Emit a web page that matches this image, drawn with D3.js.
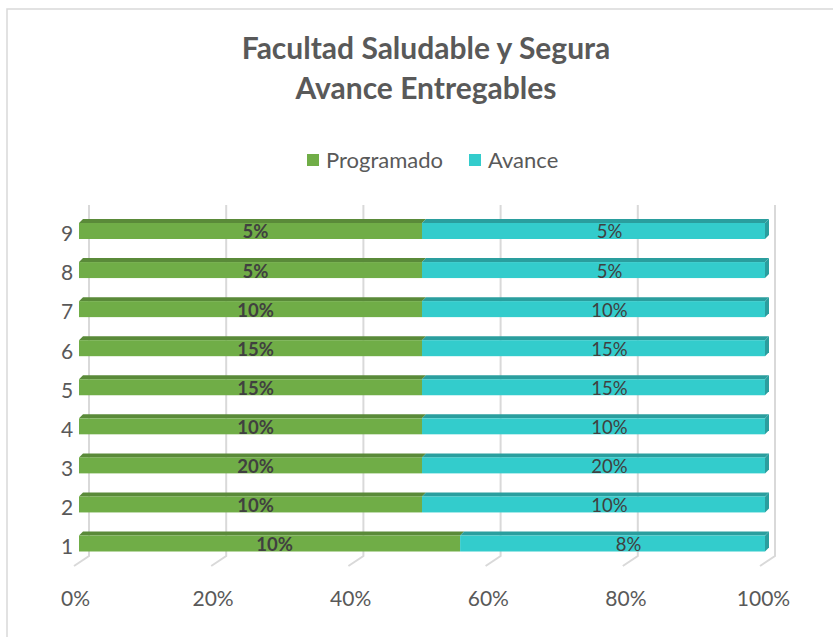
<!DOCTYPE html>
<html>
<head>
<meta charset="utf-8">
<script src="https://cdn.jsdelivr.net/npm/d3@7"></script>
<style>
  body { margin: 0; background: #fff; }
  svg { display: block; }
</style>
</head>
<body>
<div id="chart"></div>
<script>
// Chart data
const categories = ["1", "2", "3", "4", "5", "6", "7", "8", "9"];
const programado = [10, 10, 20, 10, 15, 15, 10, 5, 5];
const avance = [8, 10, 20, 10, 15, 15, 10, 5, 5];
const seriesNames = ["Programado", "Avance"];
const tickValues = [0, 0.2, 0.4, 0.6, 0.8, 1];

const width = 833, height = 637;
const colors = {
    Programado: { front: "#70AD47", top: "#5A8A39", side: "#5A8A39" },
    Avance: { front: "#33CCCC", top: "#2A9E9E", side: "#2A9E9E" }
};
const textColor = "#595959";
const labelColor = "#404040";
const font = "Lato, 'Open Sans', sans-serif";

const svg = d3.select("#chart").append("svg")
    .attr("width", width)
    .attr("height", height);

// Outer chart border (only top/left visible in the frame)
svg.append("rect")
    .attr("x", 7).attr("y", 9)
    .attr("width", 840).attr("height", 650)
    .attr("fill", "none")
    .attr("stroke", "#d9d9d9")
    .attr("stroke-width", 1.5);

// Scales
const x = d3.scaleLinear().domain([0, 1]).range([79, 765]);          // bar front faces
const xBack = d3.scaleLinear().domain([0, 1]).range([89, 775]);      // back wall gridlines
const xFloor = d3.scaleLinear().domain([0, 1]).range([74, 760]);     // floor front edge
const xLabel = d3.scaleLinear().domain([0, 1]).range([75, 763]);     // tick labels
const y = d3.scalePoint().domain(categories.slice().reverse()).range([231, 543.5]);

const barH = 16;           // front face height
const depth = { dx: 4, dy: -4 };

// Gridlines on the back wall with floor diagonals
const grid = svg.append("g").attr("stroke", "#d9d9d9").attr("stroke-width", 2).attr("fill", "none");
grid.selectAll("path")
    .data(tickValues)
    .join("path")
    .attr("d", t => `M${xBack(t)},205 L${xBack(t)},556 L${xFloor(t)},566`);

// Stack data into 100% shares
const rows = categories.map((c, i) => {
    const total = programado[i] + avance[i];
    return { cat: c, Programado: programado[i], Avance: avance[i],
             pShare: programado[i] / total };
});

const segs = [];
rows.forEach(r => {
    segs.push({ cat: r.cat, series: "Programado", x0: 0, x1: r.pShare, value: r.Programado });
    segs.push({ cat: r.cat, series: "Avance", x0: r.pShare, x1: 1, value: r.Avance });
});

const barG = svg.append("g");
const seg = barG.selectAll("g.seg").data(segs).join("g").attr("class", "seg");

// top face
seg.append("path")
    .attr("fill", d => colors[d.series].top)
    .attr("d", d => {
        const yt = y(d.cat) - barH / 2;
        return `M${x(d.x0)},${yt} L${x(d.x0) + depth.dx},${yt + depth.dy} L${x(d.x1) + depth.dx},${yt + depth.dy} L${x(d.x1)},${yt} Z`;
    });

// front face
seg.append("rect")
    .attr("x", d => x(d.x0))
    .attr("y", d => y(d.cat) - barH / 2)
    .attr("width", d => x(d.x1) - x(d.x0))
    .attr("height", barH)
    .attr("fill", d => colors[d.series].front);

// right side face (only at the end of the bar)
seg.filter(d => d.x1 === 1).append("path")
    .attr("fill", d => colors[d.series].side)
    .attr("d", d => {
        const yt = y(d.cat) - barH / 2;
        const xr = x(d.x1);
        return `M${xr},${yt} L${xr + depth.dx},${yt + depth.dy} L${xr + depth.dx},${yt + barH + depth.dy} L${xr},${yt + barH} Z`;
    });

// Data labels
svg.append("g").selectAll("text")
    .data(segs)
    .join("text")
    .attr("x", d => (x(d.x0) + x(d.x1)) / 2 + (d.series === "Avance" ? 16 : 5))
    .attr("y", d => y(d.cat) + 1)
    .attr("dy", "0.35em")
    .attr("text-anchor", "middle")
    .attr("font-family", font)
    .attr("font-size", 18.5)
    .attr("font-weight", d => d.series === "Programado" ? "bold" : "normal")
    .attr("fill", labelColor)
    .text(d => d.value + "%");

// Category labels
svg.append("g").selectAll("text")
    .data(categories)
    .join("text")
    .attr("x", 67)
    .attr("y", d => y(d) + 3)
    .attr("dy", "0.35em")
    .attr("text-anchor", "middle")
    .attr("font-family", font)
    .attr("font-size", 21)
    .attr("fill", textColor)
    .text(d => d);

// X axis tick labels
const xAxis = svg.append("g")
    .attr("transform", "translate(0,588)")
    .call(d3.axisBottom(xLabel).tickValues(tickValues).tickFormat(d3.format(".0%")).tickSize(0));
xAxis.select(".domain").remove();
xAxis.selectAll("text")
    .attr("font-family", font)
    .attr("font-size", 21)
    .attr("fill", textColor);

// Title
const title = svg.append("text")
    .attr("text-anchor", "middle")
    .attr("font-family", font)
    .attr("font-size", 30)
    .attr("font-weight", "bold")
    .attr("fill", textColor);
title.append("tspan").attr("x", 426).attr("y", 59).text("Facultad Saludable y Segura");
title.append("tspan").attr("x", 426).attr("y", 99).text("Avance Entregables");

// Legend
const legendX = [307, 469];
const legend = svg.append("g").selectAll("g")
    .data(seriesNames)
    .join("g")
    .attr("transform", (d, i) => `translate(${legendX[i]},154)`);
legend.append("rect")
    .attr("width", 12).attr("height", 12)
    .attr("fill", d => colors[d].front);
legend.append("text")
    .attr("x", 19)
    .attr("y", 6)
    .attr("dy", "0.35em")
    .attr("font-family", font)
    .attr("font-size", 22)
    .attr("fill", textColor)
    .text(d => d);
</script>
</body>
</html>
